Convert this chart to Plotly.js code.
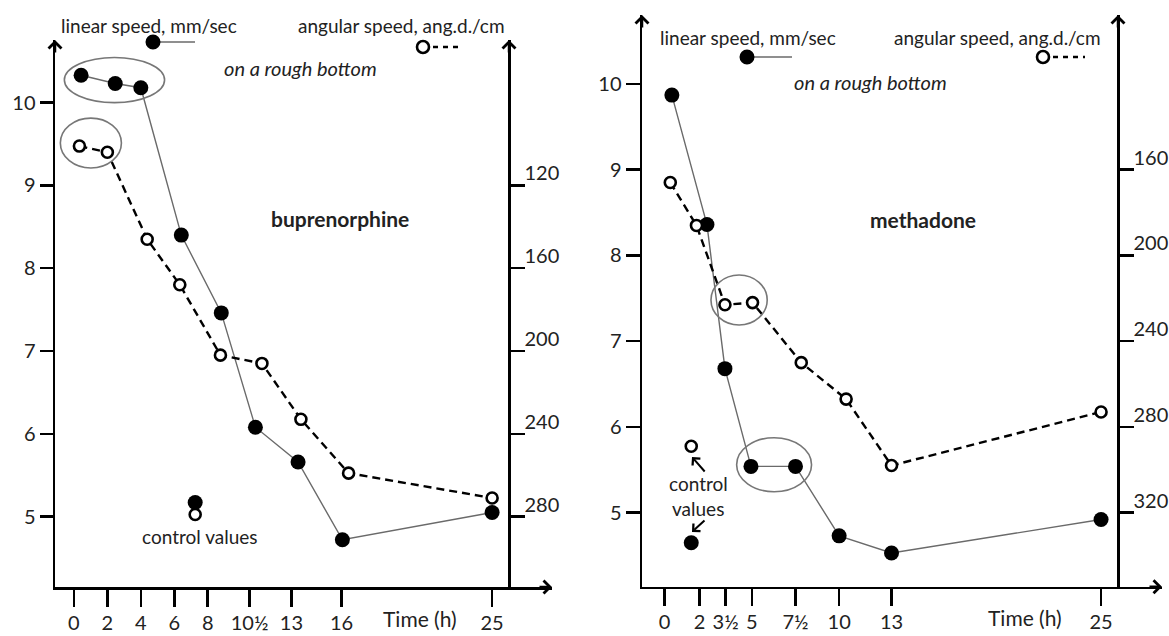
<!DOCTYPE html>
<html>
<head>
<meta charset="utf-8">
<script src="https://cdn.plot.ly/plotly-3.0.1.min.js"></script>
<style>html,body{margin:0;padding:0;background:#fff;} #chart{width:1169px;height:636px;}</style>
</head>
<body>
<div id="chart"></div>
<script>
// ---------- DATA: buprenorphine (left panel) ----------
const bupTickHours = [0, 2, 4, 6, 8, 10.5, 13, 16, 25];
const bupTickText  = ['0', '2', '4', '6', '8', '10½', '13', '16', '25'];
const bupLinHours  = [0.43, 2.47, 4.0, 6.42, 8.81, 10.85, 13.4, 16.05, 25];
const bupLinSpeed  = [10.33, 10.23, 10.18, 8.40, 7.46, 6.08, 5.66, 4.72, 5.05];
const bupAngHours  = [0.33, 2.0, 4.38, 6.33, 8.76, 11.24, 13.57, 16.42, 25];
const bupAngSpeed  = [101, 104, 146, 168, 202, 206, 233, 259, 271];
const bupCtrlHour  = [7.25];
const bupCtrlLin   = [5.17];
const bupCtrlAng   = [279];

// ---------- DATA: methadone (right panel) ----------
const metTickHours = [0, 2, 3.5, 5, 7.5, 10, 13, 25];
const metTickText  = ['0', '2', '3½', '5', '7½', '10', '13', '25'];
const metLinHours  = [0.42, 2.43, 3.46, 4.95, 7.5, 10, 13, 25];
const metLinSpeed  = [9.87, 8.36, 6.68, 5.54, 5.54, 4.73, 4.53, 4.92];
const metAngHours  = [0.33, 1.83, 3.46, 5.04, 7.83, 10.4, 13, 25];
const metAngSpeed  = [166, 186, 223, 222, 250, 267, 298, 273];
const metCtrlHour  = [1.53];
const metCtrlLin   = [4.65];
const metCtrlAng   = [289];

const linTicks = [5, 6, 7, 8, 9, 10];
const bupAngTicks = [120, 160, 200, 240, 280];
const metAngTicks = [160, 200, 240, 280, 320];

const labels = {
  lin: 'linear speed, mm/sec',
  ang: 'angular speed, ang.d./cm',
  rough: 'on a rough bottom',
  bup: 'buprenorphine',
  met: 'methadone',
  time: 'Time (h)',
  ctrl: 'control values',
  ctrl1: 'control',
  ctrl2: 'values'
};

// ---------- helpers ----------
const W = 1169, H = 636;
const fx = p => p / W;
const fy = p => 1 - p / H;
const FONT = 'Lato, "Open Sans", sans-serif';
const TXT = '#222';

const filledMarker = {size: 15, color: '#000'};
const openMarker = {size: 11, color: '#fff', line: {color: '#000', width: 2.6}};
const solidLine = {color: '#6a6a6a', width: 1.4};
const dashLine = {color: '#000', width: 2.4, dash: '8px,5px'};

const traces = [
  {x: bupAngHours, y: bupAngSpeed, xaxis: 'x', yaxis: 'y2', mode: 'lines+markers', line: dashLine, marker: openMarker},
  {x: bupLinHours, y: bupLinSpeed, xaxis: 'x', yaxis: 'y', mode: 'lines+markers', line: solidLine, marker: filledMarker},
  {x: bupCtrlHour, y: bupCtrlLin, xaxis: 'x', yaxis: 'y', mode: 'markers', marker: filledMarker},
  {x: bupCtrlHour, y: bupCtrlAng, xaxis: 'x', yaxis: 'y2', mode: 'markers', marker: openMarker},
  {x: metAngHours, y: metAngSpeed, xaxis: 'x2', yaxis: 'y4', mode: 'lines+markers', line: dashLine, marker: openMarker},
  {x: metLinHours, y: metLinSpeed, xaxis: 'x2', yaxis: 'y3', mode: 'lines+markers', line: solidLine, marker: filledMarker},
  {x: metCtrlHour, y: metCtrlLin, xaxis: 'x2', yaxis: 'y3', mode: 'markers', marker: filledMarker},
  {x: metCtrlHour, y: metCtrlAng, xaxis: 'x2', yaxis: 'y4', mode: 'markers', marker: openMarker}
];
traces.forEach(t => { t.showlegend = false; t.hoverinfo = 'skip'; t.cliponaxis = false; });

const axBase = {
  showgrid: false, zeroline: false, showline: true, linecolor: '#000', linewidth: 2.5,
  ticks: 'outside', tickcolor: '#000', tickwidth: 2.5,
  tickfont: {family: FONT, size: 20, color: TXT}, fixedrange: true
};

const bupYr = [4.15, 10.756];
const metYr = [4.137, 10.804];
const angL = v => 120 + 40 * (9 - v);
const angR = v => 160 + 40 * (9 - v);

const layout = {
  width: W, height: H,
  margin: {l: 0, r: 0, t: 0, b: 0},
  paper_bgcolor: '#fff', plot_bgcolor: 'rgba(0,0,0,0)',
  font: {family: FONT, color: TXT},
  xaxis: Object.assign({}, axBase, {
    domain: [fx(55), fx(552)], range: [-1.13, 28.58], anchor: 'y',
    tickmode: 'array', tickvals: bupTickHours, ticktext: bupTickText, ticklen: 17, ticklabelstandoff: -1
  }),
  yaxis: Object.assign({}, axBase, {
    domain: [fy(587), fy(40)], range: bupYr, anchor: 'x',
    tickmode: 'array', tickvals: linTicks, ticklen: 13
  }),
  yaxis2: Object.assign({}, axBase, {
    overlaying: 'y', anchor: 'free', position: fx(509), side: 'right',
    range: [angL(bupYr[0]), angL(bupYr[1])],
    tickmode: 'array', tickvals: bupAngTicks, ticklen: 14, ticklabelshift: 12, ticklabelstandoff: -4
  }),
  xaxis2: Object.assign({}, axBase, {
    domain: [fx(642), fx(1162)], range: [-1.29, 28.49], anchor: 'y3',
    tickmode: 'array', tickvals: metTickHours, ticktext: metTickText, ticklen: 17, ticklabelstandoff: -1
  }),
  yaxis3: Object.assign({}, axBase, {
    domain: [fy(586.7), fy(15)], range: metYr, anchor: 'x2',
    tickmode: 'array', tickvals: linTicks, ticklen: 14
  }),
  yaxis4: Object.assign({}, axBase, {
    overlaying: 'y3', anchor: 'free', position: fx(1118), side: 'right',
    range: [angR(metYr[0]), angR(metYr[1])],
    tickmode: 'array', tickvals: metAngTicks, ticklen: 14, ticklabelshift: 12, ticklabelstandoff: -4
  }),
  shapes: [],
  annotations: []
};

const ann = layout.annotations, shp = layout.shapes;
function text(t, px, py, opts) {
  ann.push(Object.assign({text: t, xref: 'paper', yref: 'paper', x: fx(px), y: fy(py),
    xanchor: 'center', yanchor: 'middle', showarrow: false,
    font: {family: FONT, size: 19, color: TXT}}, opts || {}));
}
function arrow(px, py, ax, ay, w) {
  ann.push({text: '', xref: 'paper', yref: 'paper', x: fx(px), y: fy(py), ax: ax, ay: ay,
    showarrow: true, arrowhead: 4, arrowsize: 1, arrowwidth: w || 2.5, arrowcolor: '#000', standoff: 0});
}
function ellipse(xr, yr, x0, x1, y0, y1) {
  shp.push({type: 'circle', xref: xr, yref: yr, x0: x0, x1: x1, y0: y0, y1: y1,
    line: {color: '#777', width: 1.6}, fillcolor: 'rgba(0,0,0,0)'});
}
function legendGlyph(cx, cy, filled, lineEnd) {
  shp.push({type: 'line', xref: 'paper', yref: 'paper', x0: fx(cx), x1: fx(lineEnd), y0: fy(cy), y1: fy(cy),
    line: filled ? {color: '#6a6a6a', width: 1.6} : {color: '#000', width: 2.4, dash: '5px,5px'}});
  const r = filled ? 7.5 : 6;
  shp.push({type: 'circle', xref: 'paper', yref: 'paper', x0: fx(cx - r), x1: fx(cx + r), y0: fy(cy + r), y1: fy(cy - r),
    fillcolor: filled ? '#000' : '#fff', line: {color: '#000', width: filled ? 0 : 2.6}});
}

// axis arrowheads
arrow(55, 40, 0, 14); arrow(509, 40, 0, 14); arrow(552, 587, -14, 0);
arrow(642, 15, 0, 14); arrow(1118, 15, 0, 14); arrow(1162, 586.7, -14, 0);

const italic = {font: {family: FONT, size: 20, color: TXT, style: 'italic'}};
const big = {font: {family: FONT, size: 21, color: TXT}};

// left panel texts
text(labels.lin, 149, 25);
text(labels.ang, 401, 25);
text(labels.rough, 300, 68, italic);
text('<b>' + labels.bup + '</b>', 340, 218, big);
text(labels.ctrl, 200, 536);
text(labels.time, 420, 618, big);
legendGlyph(153, 42, true, 195);
legendGlyph(423, 47, false, 463);
ellipse('x', 'y', -0.57, 5.42, 10.0, 10.545);
ellipse('x', 'y', -0.81, 2.84, 9.21, 9.813);

// right panel texts
text(labels.lin, 748, 38);
text(labels.ang, 997, 37);
text(labels.rough, 870, 82, italic);
text('<b>' + labels.met + '</b>', 923, 220, big);
text(labels.ctrl1, 698, 483);
text(labels.ctrl2, 698, 508);
text(labels.time, 1025, 617, big);
legendGlyph(747, 57, true, 792);
legendGlyph(1043, 57, false, 1085);
arrow(692, 457, 14, 16, 2);
arrow(692, 532, 14, -13, 2);
ellipse('x2', 'y3', 2.66, 5.88, 7.189, 7.772);
ellipse('x2', 'y3', 4.13, 8.42, 5.245, 5.874);

Plotly.newPlot('chart', traces, layout, {staticPlot: true, displayModeBar: false});
</script>
</body>
</html>
